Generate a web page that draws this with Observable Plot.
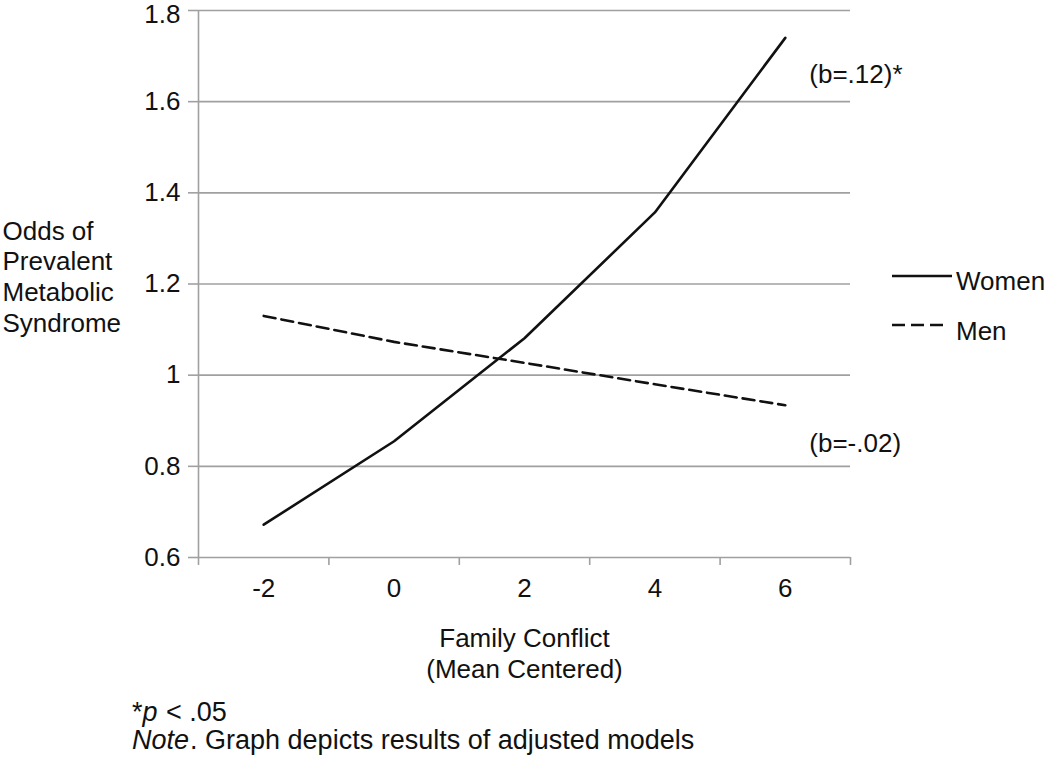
<!DOCTYPE html>
<html>
<head>
<meta charset="utf-8">
<script src="https://cdn.jsdelivr.net/npm/d3@7"></script>
<script src="https://cdn.jsdelivr.net/npm/@observablehq/plot@0.6"></script>
<style>
  body { margin: 0; background: #fff; }
  #wrap { position: relative; width: 1050px; height: 762px; font-family: "Liberation Sans", Arial, sans-serif; color: #111; }
  #chart svg { display: block; }
  .abs { position: absolute; font-size: 26px; line-height: 26px; white-space: nowrap; }
  .foot { position: absolute; left: 132px; top: 698px; font-size: 27px; line-height: 28px; white-space: nowrap; }
  .foot i { padding-right: 1px; }
</style>
</head>
<body>
<div id="wrap">
  <div id="chart"></div>
</div>
<script>
// ---- data ----
const xValues = [-2, 0, 2, 4, 6];
const xTickLabels = ["-2", "0", "2", "4", "6"];
const womenOdds = [0.672, 0.855, 1.081, 1.357, 1.74];
const menOdds = [1.13, 1.073, 1.027, 0.98, 0.934];
const seriesNames = ["Women", "Men"];
const slopeNotes = ["(b=.12)*", "(b=-.02)"];
const yTicks = [0.6, 0.8, 1, 1.2, 1.4, 1.6, 1.8];
const yTickLabels = ["0.6", "0.8", "1", "1.2", "1.4", "1.6", "1.8"];
const yTitle = "Odds of\nPrevalent\nMetabolic\nSyndrome";
const xTitle = "Family Conflict\n(Mean Centered)";
const footLine1 = ["*", "p", " < .05"];
const footLine2 = ["Note", ". Graph depicts results of adjusted models"];

// category boundaries (Excel-style tick marks between categories)
const boundaries = xValues.map(v => v - 1).concat([xValues[xValues.length - 1] + 1]);

const women = xValues.map((x, i) => ({x, y: womenOdds[i]}));
const men = xValues.map((x, i) => ({x, y: menOdds[i]}));
const last = xValues.length - 1;
const womenNote = [{x: xValues[last], y: womenOdds[last], t: slopeNotes[0]}];
const menNote = [{x: xValues[last], y: menOdds[last], t: slopeNotes[1]}];

const grid = "#a0a0a0";
const ink = "#111";
const yFmt = d => yTickLabels[yTicks.indexOf(d)];

const chart = Plot.plot({
  width: 1050,
  height: 690,
  marginLeft: 198,
  marginRight: 200,
  marginTop: 10,
  marginBottom: 133,
  style: {fontFamily: "'Liberation Sans', Arial, sans-serif", fontSize: "26px", color: ink, background: "white"},
  x: {domain: [boundaries[0], boundaries[boundaries.length - 1]]},
  y: {domain: [yTicks[0], yTicks[yTicks.length - 1]]},
  marks: [
    Plot.ruleY(yTicks, {stroke: grid, strokeWidth: 1.6}),
    Plot.ruleX([boundaries[0]], {stroke: grid, strokeWidth: 1.6}),
    Plot.axisY({
      ticks: yTicks, tickSize: 10, tickPadding: 8, label: null,
      tickFormat: () => "", stroke: grid, strokeWidth: 1.6
    }),
    Plot.axisY({
      ticks: yTicks.slice(0, -1), tickSize: 0, tickPadding: 18, label: null,
      tickFormat: yFmt, fill: ink, fontSize: 26
    }),
    Plot.axisY({
      ticks: yTicks.slice(-1), tickSize: 0, tickPadding: 18, label: null, dy: 4,
      tickFormat: yFmt, fill: ink, fontSize: 26
    }),
    Plot.axisX({
      ticks: boundaries, tickSize: 8, tickPadding: 0, label: null,
      tickFormat: () => "", stroke: grid, strokeWidth: 1.6
    }),
    Plot.axisX({
      ticks: xValues, tickSize: 0, tickPadding: 21, label: null,
      tickFormat: d => xTickLabels[xValues.indexOf(d)],
      fill: ink, fontSize: 26
    }),
    Plot.line(women, {x: "x", y: "y", stroke: ink, strokeWidth: 2.6}),
    Plot.line(men, {x: "x", y: "y", stroke: ink, strokeWidth: 2.6, strokeDasharray: "12,6"}),
    Plot.text(womenNote, {x: "x", y: "y", text: "t", textAnchor: "start", dx: 24, dy: 37, fontSize: 26, fill: ink}),
    Plot.text(menNote, {x: "x", y: "y", text: "t", textAnchor: "start", dx: 24, dy: 38, fontSize: 26, fill: ink}),
    Plot.text([yTitle], {frameAnchor: "left", textAnchor: "start", dx: -196, dy: -8, lineHeight: 1.19, fontSize: 26, fill: ink}),
    Plot.text([xTitle], {frameAnchor: "bottom", lineAnchor: "top", dy: 67, lineHeight: 1.2, fontSize: 26, fill: ink})
  ]
});
document.getElementById("chart").appendChild(chart);

const wrap = document.getElementById("wrap");

// legend
const legendSvg = d3.create("svg")
  .attr("width", 70).attr("height", 70)
  .style("position", "absolute").style("left", "890px").style("top", "266px");
legendSvg.append("line").attr("x1", 2).attr("x2", 62).attr("y1", 10).attr("y2", 10)
  .attr("stroke", ink).attr("stroke-width", 2.6);
legendSvg.append("line").attr("x1", 2).attr("x2", 53).attr("y1", 59).attr("y2", 59)
  .attr("stroke", ink).attr("stroke-width", 2.6).attr("stroke-dasharray", "13,6");
wrap.appendChild(legendSvg.node());

[[seriesNames[0], 268], [seriesNames[1], 318]].forEach(([name, top]) => {
  const s = document.createElement("div");
  s.className = "abs";
  s.style.left = "956px";
  s.style.top = top + "px";
  s.textContent = name;
  wrap.appendChild(s);
});

// footnotes
const foot = document.createElement("div");
foot.className = "foot";
const l1 = document.createElement("div");
const star = document.createElement("span"); star.textContent = footLine1[0]; l1.append(star);
const p = document.createElement("i"); p.textContent = footLine1[1]; l1.append(p);
const rest1 = document.createElement("span"); rest1.textContent = footLine1[2]; l1.append(rest1);
const l2 = document.createElement("div");
const n = document.createElement("i"); n.textContent = footLine2[0]; l2.append(n);
const rest2 = document.createElement("span"); rest2.textContent = footLine2[1]; l2.append(rest2);
foot.append(l1, l2);
wrap.appendChild(foot);
</script>
</body>
</html>
